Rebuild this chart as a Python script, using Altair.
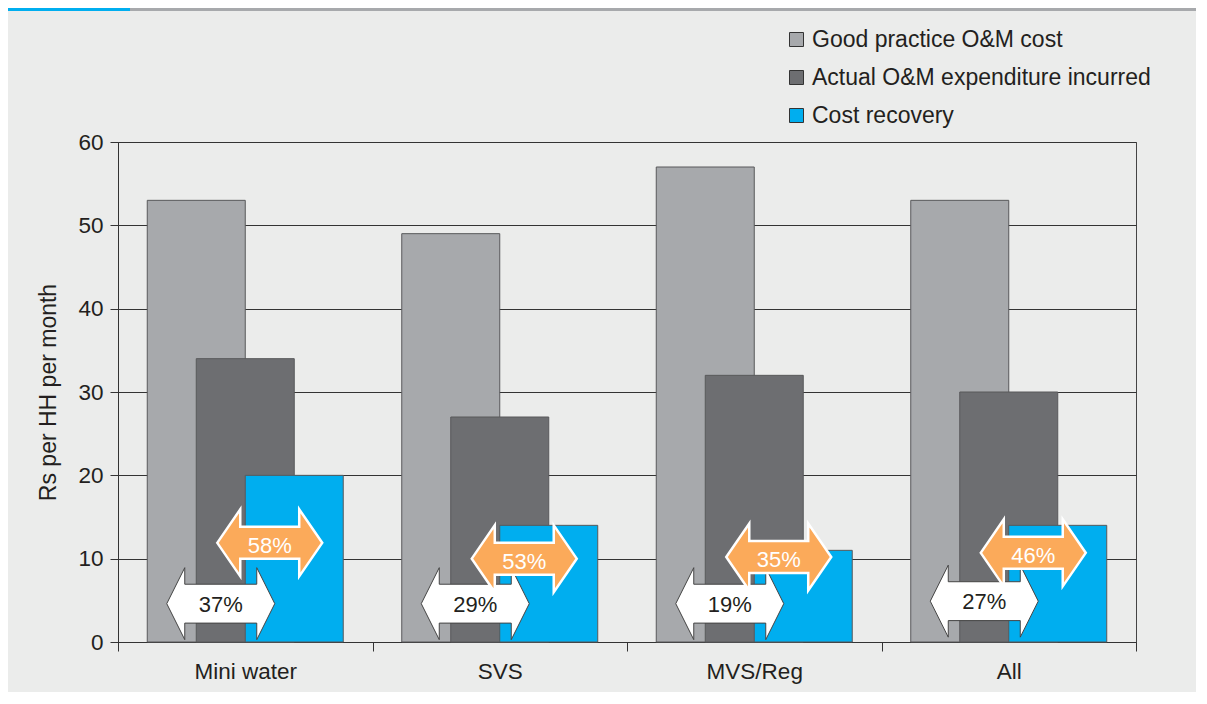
import altair as alt
import pandas as pd

# ---- data ----
categories = ["Mini water", "SVS", "MVS/Reg", "All"]
series = ["Good practice O&M cost", "Actual O&M expenditure incurred", "Cost recovery"]
good_practice = [53, 49, 57, 53]
actual_expenditure = [34, 27, 32, 30]
cost_recovery = [20, 14, 11, 14]
recovery_vs_good = ["37%", "29%", "19%", "27%"]
recovery_vs_actual = ["58%", "53%", "35%", "46%"]
recovery_vs_good_y = [4.6, 4.6, 4.6, 4.9]
recovery_vs_actual_y = [11.9, 10.0, 10.2, 10.7]

# ---- styling ----
FONT = "Liberation Sans"
INK = "#231f20"
LINE = "#333333"
BG = "#ebeceb"
BAR_COLORS = ["#a7a9ac", "#6d6e71", "#00aeef"]
ORANGE = "#fbaa5a"

WHITE_ARROW = "M-1.5,0L-1,-1L-1,-0.54L1,-0.54L1,-1L1.5,0L1,1L1,0.54L-1,0.54L-1,1Z"
ORANGE_ARROW = "M-1.567,0L-0.88,-1L-0.88,-0.478L0.88,-0.478L0.88,-1L1.567,0L0.88,1L0.88,0.478L-0.88,0.478L-0.88,1Z"

# slots within each category band (two empty slots on each side)
slots = ["pad_a", "pad_b", series[0], "gap_good_actual", series[1],
         "gap_actual_recovery", series[2], "pad_c", "pad_d"]

rows = []
for i, c in enumerate(categories):
    for s, v in zip(series, [good_practice[i], actual_expenditure[i], cost_recovery[i]]):
        rows.append({"category": c, "series": s, "value": v})
bars_df = pd.DataFrame(rows)

white_df = pd.DataFrame({"category": categories, "slot": "gap_good_actual",
                         "y": recovery_vs_good_y, "label": recovery_vs_good})
orange_df = pd.DataFrame({"category": categories, "slot": "gap_actual_recovery",
                          "y": recovery_vs_actual_y, "label": recovery_vs_actual})

x_enc = alt.X(
    "category:N", sort=categories,
    scale=alt.Scale(paddingInner=0, paddingOuter=0),
    axis=alt.Axis(title=None, labelFontSize=22.5, labelFont=FONT, labelColor=INK,
                  tickBand="extent", tickSize=9, tickColor=LINE, domainColor=LINE,
                  labelPadding=9, labelAngle=0),
)
xoff_scale = alt.Scale(domain=slots, paddingInner=0, paddingOuter=0.694)
y_scale = alt.Scale(domain=[0, 60], nice=False)

bars = alt.Chart(bars_df).mark_bar(
    width=98, stroke="#58595b", strokeWidth=1
).encode(
    x=x_enc,
    xOffset=alt.XOffset("series:N", scale=xoff_scale),
    y=alt.Y("value:Q", scale=y_scale,
            axis=alt.Axis(title="Rs per HH per month", titleFont=FONT, titleFontSize=23,
                          titleFontWeight="normal", titleColor=INK, titlePadding=17,
                          labelFont=FONT, labelFontSize=22.5, labelColor=INK, labelPadding=7,
                          tickSize=8, tickColor=LINE, domainColor=LINE,
                          grid=True, gridColor=LINE, gridWidth=1,
                          values=[0, 10, 20, 30, 40, 50, 60])),
    color=alt.Color("series:N", scale=alt.Scale(domain=series, range=BAR_COLORS),
                    legend=alt.Legend(title=None, orient="none", legendX=667, legendY=-114,
                                      direction="vertical", symbolType="square", symbolSize=196,
                                      symbolStrokeColor=LINE, symbolStrokeWidth=1,
                                      labelFont=FONT, labelFontSize=23, labelColor=INK,
                                      labelOffset=4, rowPadding=14, padding=0, labelLimit=600)),
)

white_arrows = alt.Chart(white_df).mark_point(
    shape=WHITE_ARROW, size=5184, filled=True, fill="white", stroke="#444444",
    strokeWidth=1, opacity=1
).encode(
    x=alt.X("category:N", sort=categories),
    xOffset=alt.XOffset("slot:N", scale=xoff_scale),
    y=alt.Y("y:Q", scale=y_scale),
)
white_text = alt.Chart(white_df).mark_text(
    font=FONT, fontSize=22, color=INK, baseline="middle", dy=1
).encode(
    x=alt.X("category:N", sort=categories),
    xOffset=alt.XOffset("slot:N", scale=xoff_scale),
    y=alt.Y("y:Q", scale=y_scale),
    text="label:N",
)
orange_arrows = alt.Chart(orange_df).mark_point(
    shape=ORANGE_ARROW, size=4489, filled=True, fill=ORANGE, stroke="white",
    strokeWidth=2.5, opacity=1
).encode(
    x=alt.X("category:N", sort=categories),
    xOffset=alt.XOffset("slot:N", scale=xoff_scale),
    y=alt.Y("y:Q", scale=y_scale),
)
orange_text = alt.Chart(orange_df).mark_text(
    font=FONT, fontSize=22, color="white", baseline="middle", dy=3
).encode(
    x=alt.X("category:N", sort=categories),
    xOffset=alt.XOffset("slot:N", scale=xoff_scale),
    y=alt.Y("y:Q", scale=y_scale),
    text="label:N",
)

deco = alt.Data(values=[{"k": 1}])
accent = alt.Chart(deco).mark_rule(color="#00aeef", strokeWidth=3).encode(
    x=alt.value(-110), x2=alt.value(12), y=alt.value(-132.5))
topline = alt.Chart(deco).mark_rule(color="#a7a9ac", strokeWidth=3).encode(
    x=alt.value(12), x2=alt.value(1090), y=alt.value(-132.5))

chart = alt.layer(
    bars, white_arrows, white_text, orange_arrows, orange_text, accent, topline
).properties(
    width=1018, height=500,
    padding={"left": 110, "top": 134, "right": 60, "bottom": 50},
    autosize=alt.AutoSizeParams(type="none"),
    background=BG,
).configure_view(stroke="#444444", strokeWidth=1)

chart.save("out.html", embed_options={"renderer": "svg", "actions": False})
